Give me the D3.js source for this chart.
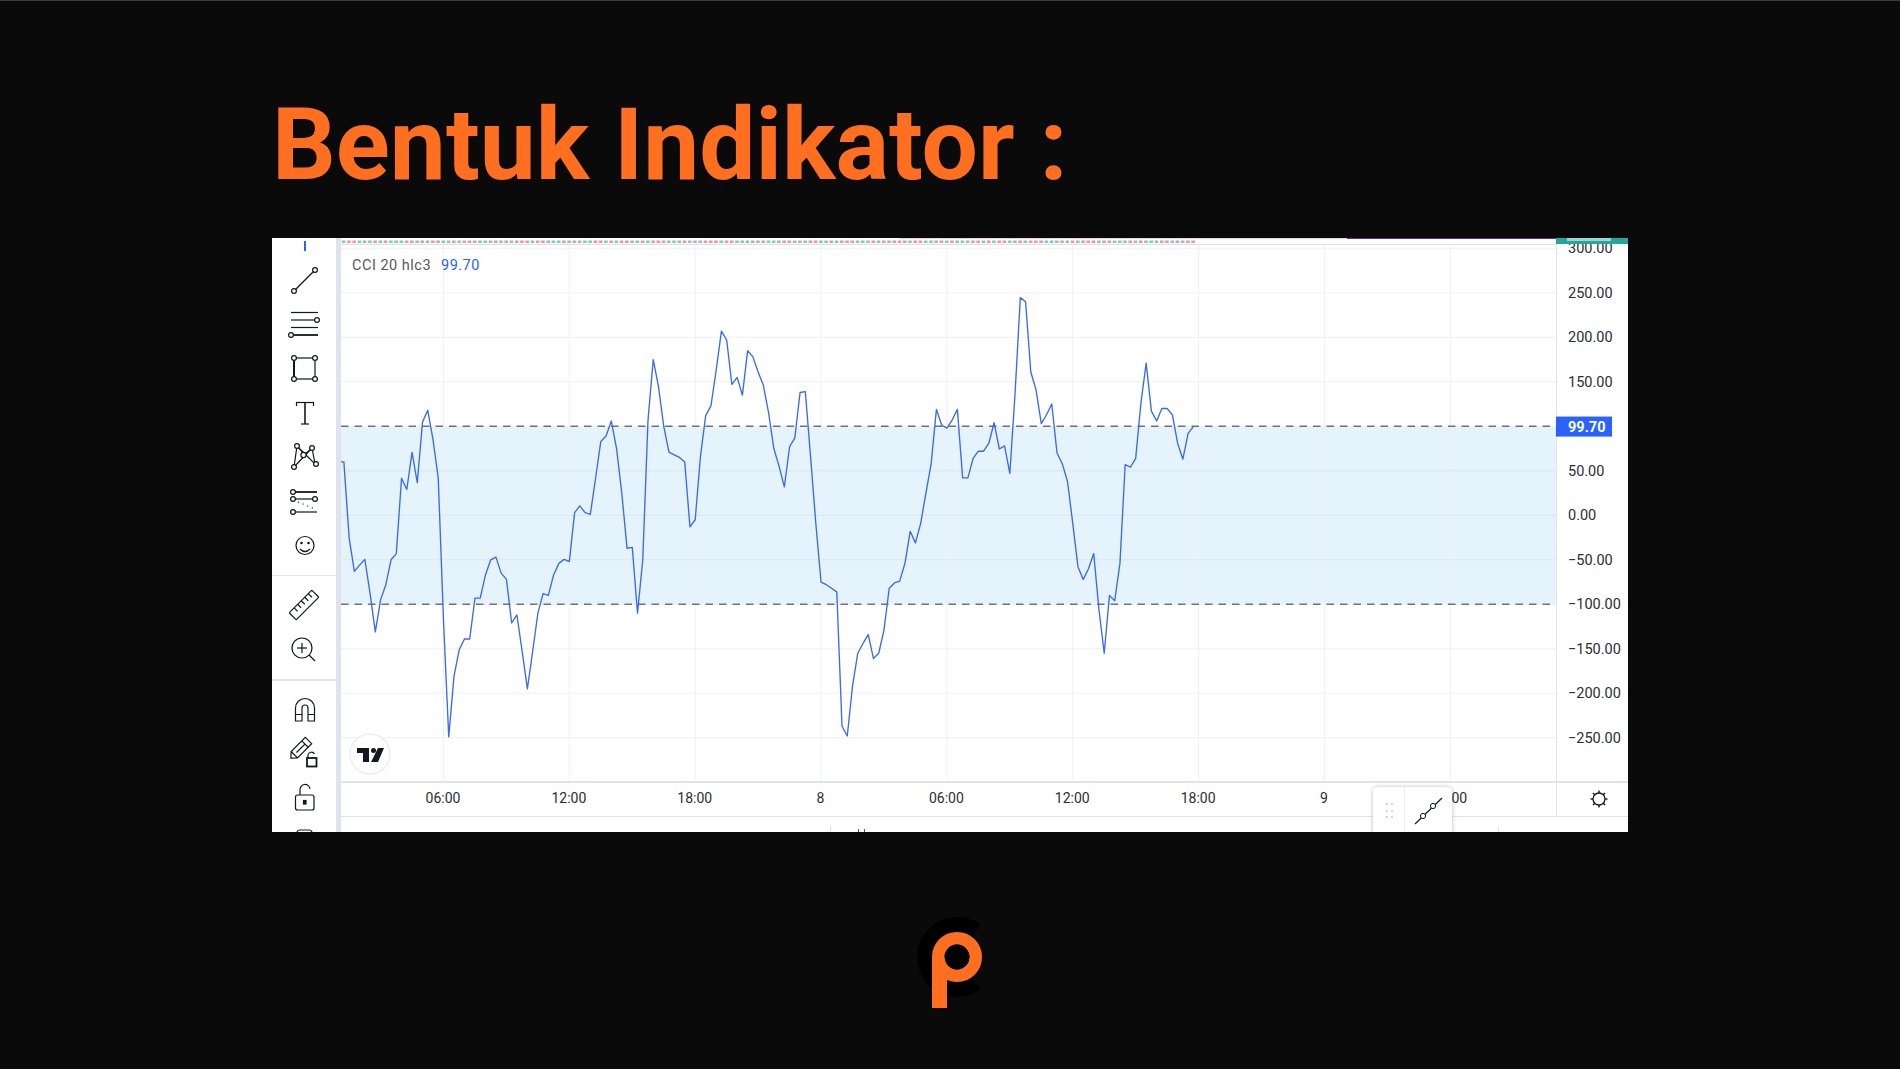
<!DOCTYPE html>
<html>
<head>
<meta charset="utf-8">
<script src="https://cdn.jsdelivr.net/npm/d3@7"></script>
<style>
  html, body { margin: 0; padding: 0; background: #0a0a0a; }
  svg { display: block; }
  text { font-family: Roboto, sans-serif; }
</style>
</head>
<body>
<svg id="chart" width="1900" height="1069"></svg>
<script>
// CCI readings, one every 15 min, from 01:00 on the 7th to 17:45 on the 8th
var firstBar = Date.UTC(2021, 5, 7, 1, 0);
var barMinutes = 15;
var cciValues = [
  60, 60, -25, -63, -56, -49.5, -88, -131, -95, -78, -50, -43, 41.6, 29, 70.8, 36.7, 105, 118, 85, 41.6,
  -118, -249, -181, -151, -139, -139, -93, -93, -67, -50, -47, -65, -72, -121, -112, -153, -195, -153, -110, -88,
  -90, -67, -54, -49.5, -52, 3, 10.5, 3, 1, 41.6, 83, 89, 106, 75, 25, -37, -36, -110, -50, 107,
  175, 144.6, 100, 71, 68, 65, 60, -13, -5, 66, 112, 123, 163, 207, 197, 147, 155, 135, 185, 178,
  161, 146, 115, 75, 55, 32, 77, 87, 138, 139, 66, -9, -75, -78, -82, -86, -237, -248, -192, -155,
  -144, -134, -161, -155, -129, -82, -76, -74, -54, -18, -31, -9, 25, 58, 119, 101.5, 98, 107, 119, 42,
  42, 64, 72, 72, 81, 104, 74.5, 78, 47, 137, 244.6, 240, 161, 141, 103, 113, 125, 70, 58, 38,
  -9, -58, -72, -60, -43, -106, -155, -90, -96, -54, 57, 54, 64, 126, 171, 117, 106, 120, 120, 113,
  81, 63, 92, 99.7
];
var priceTicks = [300, 250, 200, 150, 100, 50, 0, -50, -100, -150, -200, -250];
var priceLabelTicks = [300, 250, 200, 150, 50, 0, -50, -100, -150, -200, -250];
var timeTicks = [
  Date.UTC(2021, 5, 7, 6), Date.UTC(2021, 5, 7, 12), Date.UTC(2021, 5, 7, 18), Date.UTC(2021, 5, 8, 0),
  Date.UTC(2021, 5, 8, 6), Date.UTC(2021, 5, 8, 12), Date.UTC(2021, 5, 8, 18), Date.UTC(2021, 5, 9, 0),
  Date.UTC(2021, 5, 9, 6)
];
var timeLabels = ["06:00", "12:00", "18:00", "8", "06:00", "12:00", "18:00", "9", "06:00"];
var bandLevels = [100, -100];
var lastValue = 99.70;
var stripKinds = "rgrrgggrgrgggrrgrgrrggrgrrrgggrgrgrr";

var orange = "#ff6f1f", blue = "#2962ff", ink = "#131722", grid = "#eef0f5", rule = "#e0e3eb";

var svg = d3.select("#chart");

// title
svg.append("text").attr("x", 272).attr("y", 179)
  .attr("font-size", 100).attr("font-weight", 700).attr("fill", orange)
  .text("Bentuk Indikator :");

// screenshot panel
svg.append("rect").attr("x", 0).attr("y", 0).attr("width", 1900).attr("height", 1).attr("fill", "#3a3a3a");
svg.append("rect").attr("x", 272).attr("y", 238).attr("width", 1356).attr("height", 594).attr("fill", "#fff");

var left = 341, right = 1556, top_ = 244, bottom = 782;

var x = d3.scaleUtc()
  .domain([Date.UTC(2021, 5, 7, 6), Date.UTC(2021, 5, 9, 6)])
  .range([443.5, 1450.3]);
var y = d3.scaleLinear().domain([0, 250]).range([515.3, 292.8]);

var defs = svg.append("defs");
defs.append("clipPath").attr("id", "plot").append("rect")
  .attr("x", left).attr("y", top_).attr("width", right - left).attr("height", bottom - top_);
defs.append("clipPath").attr("id", "panel").append("rect")
  .attr("x", 272).attr("y", 238).attr("width", 1356).attr("height", 594);
defs.append("filter").attr("id", "soft").attr("x", "-30%").attr("y", "-30%").attr("width", "160%").attr("height", "160%")
  .append("feDropShadow").attr("dx", 0).attr("dy", 0).attr("stdDeviation", 2.2).attr("flood-color", "#000").attr("flood-opacity", 0.28);

var plot = svg.append("g").attr("clip-path", "url(#plot)");

// band between the two levels
plot.append("rect")
  .attr("x", left).attr("width", right - left)
  .attr("y", y(bandLevels[0])).attr("height", y(bandLevels[1]) - y(bandLevels[0]))
  .attr("fill", "#e5f3fd");

// grid
plot.selectAll("line.h").data(priceTicks).enter().append("line").attr("class", "h")
  .attr("x1", left).attr("x2", right)
  .attr("y1", function (d) { return y(d); }).attr("y2", function (d) { return y(d); })
  .attr("stroke", function (d) { return Math.abs(d) < 100 ? "#d8e6f2" : grid; });
plot.selectAll("line.v").data(timeTicks).enter().append("line").attr("class", "v")
  .attr("x1", function (d) { return x(d); }).attr("x2", function (d) { return x(d); })
  .attr("y1", top_).attr("y2", bottom)
  .attr("stroke", grid);

// hint of the price pane left over at the top of the crop
var bars = cciValues.map(function (v, i) { return { t: firstBar + i * barMinutes * 60000, v: v, i: i }; });
svg.append("g").selectAll("rect").data(bars).enter().append("rect")
  .attr("x", function (d) { return x(d.t) - 2; }).attr("width", 3.6)
  .attr("y", 240.5).attr("height", 2.5)
  .attr("fill", function (d) { return stripKinds[d.i % stripKinds.length] === "r" ? "#e59a9e" : "#85c8c0"; });
svg.append("line").attr("x1", left).attr("x2", right).attr("y1", 244.5).attr("y2", 244.5).attr("stroke", "#dddfe4");
svg.append("line").attr("x1", 900).attr("x2", 1347).attr("y1", 238.5).attr("y2", 238.5).attr("stroke", "#f1c9e6");
svg.append("line").attr("x1", 1347).attr("x2", 1556).attr("y1", 238.5).attr("y2", 238.5).attr("stroke", "#7a2a7e");

// dashed levels
plot.selectAll("line.level").data(bandLevels).enter().append("line").attr("class", "level")
  .attr("x1", left).attr("x2", right - 4)
  .attr("y1", function (d) { return y(d); }).attr("y2", function (d) { return y(d); })
  .attr("stroke", "#6f727c").attr("stroke-width", 1.6).attr("stroke-dasharray", "7.5,6");

// CCI line
var line = d3.line()
  .x(function (d) { return x(d.t); })
  .y(function (d) { return y(d.v); });
plot.append("path").datum(bars)
  .attr("d", line)
  .attr("fill", "none").attr("stroke", "#3a6be8").attr("stroke-width", 1.35).attr("stroke-linejoin", "round");

// legend
svg.append("text").attr("x", 352).attr("y", 269.5).attr("font-size", 14.5).attr("letter-spacing", 0.5).attr("fill", "#55585f").text("CCI 20 hlc3");
svg.append("text").attr("x", 441).attr("y", 269.5).attr("font-size", 14.5).attr("letter-spacing", 0.5).attr("fill", blue).text("99.70");

// price axis
svg.append("line").attr("x1", right + 0.5).attr("x2", right + 0.5).attr("y1", 238).attr("y2", 816).attr("stroke", rule);
defs.append("clipPath").attr("id", "panelAxis").append("rect").attr("x", -10).attr("y", 244).attr("width", 200).attr("height", 600);
var yAxis = d3.axisRight(y).tickValues(priceLabelTicks).tickSize(0).tickPadding(12)
  .tickFormat(function (d) { return (d < 0 ? "\u2212" : "") + Math.abs(d).toFixed(2); });
var yAxisG = svg.append("g").attr("transform", "translate(" + right + ",0)").attr("clip-path", "url(#panelAxis)").call(yAxis);
yAxisG.select(".domain").remove();
yAxisG.selectAll("text").attr("font-size", 14.5).attr("font-family", "Roboto, sans-serif").attr("fill", "#2a2e39");

// teal tag clipped at the top, current value tag
svg.append("rect").attr("x", right).attr("y", 238).attr("width", 72).attr("height", 6).attr("fill", "#26a69a");
svg.append("rect").attr("x", right + 11).attr("y", 238).attr("width", 44).attr("height", 3).attr("fill", "#ffffff").attr("opacity", 0.55);
svg.append("rect").attr("x", right).attr("y", y(lastValue) - 10).attr("width", 56).attr("height", 20).attr("fill", blue);
svg.append("text").attr("x", right + 12).attr("y", y(lastValue) + 5.5)
  .attr("font-size", 14.5).attr("font-weight", 700).attr("fill", "#fff").text(lastValue.toFixed(2));

// time axis
svg.append("line").attr("x1", left).attr("x2", 1628).attr("y1", bottom).attr("y2", bottom).attr("stroke", rule).attr("stroke-width", 2);
svg.append("line").attr("x1", left).attr("x2", 1628).attr("y1", 816.5).attr("y2", 816.5).attr("stroke", rule);
var xAxis = d3.axisBottom(x).tickValues(timeTicks).tickSize(0).tickPadding(0)
  .tickFormat(function (d, i) { return timeLabels[i]; });
var xAxisG = svg.append("g").attr("transform", "translate(-1,793)").call(xAxis);
xAxisG.select(".domain").remove();
xAxisG.selectAll("text").attr("font-size", 14).attr("font-family", "Roboto, sans-serif").attr("fill", "#2a2e39");

// toolbar
svg.append("rect").attr("x", 336).attr("y", 238).attr("width", 5).attr("height", 594).attr("fill", "#dfe3ef");
svg.append("line").attr("x1", 272).attr("x2", 336).attr("y1", 575.5).attr("y2", 575.5).attr("stroke", "#e6e8ee");
svg.append("line").attr("x1", 272).attr("x2", 336).attr("y1", 680).attr("y2", 680).attr("stroke", "#e0e3eb").attr("stroke-width", 2);
svg.append("rect").attr("x", 304).attr("y", 241).attr("width", 2).attr("height", 10).attr("fill", blue);

var icons = svg.append("g").attr("fill", "none").attr("stroke", ink).attr("stroke-width", 1.2).attr("clip-path", "url(#panel)");
function seg(x1, y1, x2, y2, w) {
  icons.append("line").attr("x1", x1).attr("y1", y1).attr("x2", x2).attr("y2", y2).attr("stroke-width", w || 1.2);
}
function dot(cx, cy, r) {
  icons.append("circle").attr("cx", cx).attr("cy", cy).attr("r", r || 2.4).attr("fill", "#fff");
}
function curve(d, w) {
  icons.append("path").attr("d", d).attr("stroke-width", w || 1.2);
}
// trend line
seg(294, 291, 315, 270); dot(294, 291); dot(315, 270);
// fib lines
seg(291, 312.5, 318, 312.5); seg(291, 320, 316, 320); seg(291, 327.5, 318, 327.5); seg(291, 335, 318, 335, 1.8);
dot(317, 320); dot(291, 335);
// rectangle
icons.append("rect").attr("x", 294).attr("y", 358).attr("width", 21).attr("height", 21);
seg(294, 358, 294, 379, 2);
dot(294, 358); dot(315, 358); dot(294, 379); dot(315, 379);
// text tool
seg(296, 402.5, 314, 402.5); seg(296.5, 402, 296.5, 406); seg(313.5, 402, 313.5, 406);
seg(305, 402, 305, 424, 1.6); seg(301, 424, 309, 424);
// pattern
curve("M294 467L297 446L315 464L312 448L294 467M297 446L305 455M312 448L303 456");
dot(294, 467); dot(297, 446); dot(312, 448); dot(316, 464); dot(303.5, 455, 2.6);
// forecast
seg(293, 492, 317, 492, 1.8); seg(293, 499, 315, 499); seg(294, 512, 317, 512);
dot(293, 492); dot(293, 499); dot(315, 499); dot(293, 512);
icons.append("line").attr("x1", 298).attr("y1", 502).attr("x2", 315).attr("y2", 509).attr("stroke-dasharray", "1,4");
// smiley
icons.append("circle").attr("cx", 305).attr("cy", 545.5).attr("r", 9);
dot(301.5, 543, 0.7); dot(308.5, 543, 0.7);
curve("M300 549Q305 554 310 549");
// ruler
var ruler = icons.append("g").attr("transform", "translate(304,605) rotate(-45)");
ruler.append("rect").attr("x", -16).attr("y", -5).attr("width", 32).attr("height", 10).attr("rx", 1);
ruler.selectAll("line").data([-9, -4, 1, 6, 11]).enter().append("line")
  .attr("x1", function (d) { return d; }).attr("x2", function (d) { return d; }).attr("y1", -5).attr("y2", 0);
// zoom
icons.append("circle").attr("cx", 302).attr("cy", 648).attr("r", 10);
seg(297, 648, 307, 648); seg(302, 643, 302, 653); seg(309, 655, 315, 661);
// magnet
curve("M295.5 721V708A9.5 9.5 0 0 1 314.5 708V721H308V708A3 3 0 0 0 302 708V721ZM295.5 714.5H302M308 714.5H314.5");
// pencil and lock
var pencil = icons.append("g").attr("transform", "translate(300,749) rotate(-45)");
pencil.append("path").attr("d", "M-13 0L-8 -4.5H12V4.5H-8ZM-8 -4.5V4.5M7 -4.5V4.5M-5 0H7");
icons.append("rect").attr("x", 307).attr("y", 758).attr("width", 9.5).attr("height", 8.5).attr("stroke-width", 1.8);
curve("M308 758V755A3.5 3.5 0 0 1 314.5 754");
// unlock
icons.append("rect").attr("x", 295.5).attr("y", 795).attr("width", 18.5).attr("height", 15).attr("rx", 2);
curve("M300 795V790A5 5 0 0 1 310 789");
icons.append("rect").attr("x", 303.5).attr("y", 800.5).attr("width", 2.5).attr("height", 3.5).attr("fill", ink);
// next icon, cut by the crop
icons.append("rect").attr("x", 297).attr("y", 830).attr("width", 15).attr("height", 8).attr("rx", 3);

// tradingview badge
svg.append("circle").attr("cx", 370).attr("cy", 754).attr("r", 20).attr("fill", "#fff").attr("stroke", "#eeeeee").attr("stroke-width", 1.5);
svg.append("path").attr("fill", ink)
  .attr("d", "M357 748H369V762H363V753H357ZM378 748H384L378 762H371Z");
svg.append("circle").attr("cx", 373.5).attr("cy", 750.5).attr("r", 2.5).attr("fill", ink);

// gear
var gear = svg.append("g").attr("transform", "translate(1599,799)").attr("fill", "none").attr("stroke", ink);
gear.append("circle").attr("r", 6).attr("stroke-width", 1.3);
gear.selectAll("line").data([0, 45, 90, 135, 180, 225, 270, 315]).enter().append("line")
  .attr("x1", 0).attr("x2", 0).attr("y1", -6).attr("y2", -8.5).attr("stroke-width", 1.4)
  .attr("transform", function (d) { return "rotate(" + d + ")"; });

// small stubs under the time axis
svg.append("line").attr("x1", 830.5).attr("x2", 830.5).attr("y1", 826).attr("y2", 832).attr("stroke", "#e0e3eb");
svg.append("line").attr("x1", 858.5).attr("x2", 858.5).attr("y1", 829).attr("y2", 832).attr("stroke", "#555");
svg.append("line").attr("x1", 864.5).attr("x2", 864.5).attr("y1", 829).attr("y2", 832).attr("stroke", "#555");
svg.append("line").attr("x1", 1498.5).attr("x2", 1498.5).attr("y1", 826).attr("y2", 832).attr("stroke", "#e0e3eb");

// floating drawing widget
var widget = svg.append("g").attr("clip-path", "url(#panel)");
widget.append("rect").attr("x", 1373).attr("y", 787).attr("width", 79).attr("height", 60).attr("rx", 5)
  .attr("fill", "#fff").attr("filter", "url(#soft)");
widget.append("line").attr("x1", 1404.5).attr("x2", 1404.5).attr("y1", 787).attr("y2", 832).attr("stroke", "#eceef2");
widget.selectAll("circle.grip").data([[1387, 804], [1392, 804], [1387, 811], [1392, 811], [1387, 817], [1392, 817]])
  .enter().append("circle").attr("class", "grip")
  .attr("cx", function (d) { return d[0]; }).attr("cy", function (d) { return d[1]; }).attr("r", 1).attr("fill", "#c8cad0");
widget.append("line").attr("x1", 1415).attr("y1", 824).attr("x2", 1442).attr("y2", 798).attr("stroke", ink).attr("stroke-width", 1.2);
widget.append("circle").attr("cx", 1423).attr("cy", 816).attr("r", 2.6).attr("fill", "#fff").attr("stroke", ink);
widget.append("circle").attr("cx", 1433).attr("cy", 806).attr("r", 2.6).attr("fill", "#fff").attr("stroke", ink);

// logo, black C behind the orange p
var logo = svg.append("g").attr("transform", "translate(957,957)");
logo.append("path")
  .attr("d", d3.arc()({ innerRadius: 24, outerRadius: 40, startAngle: Math.PI * 0.8, endAngle: Math.PI * 2.2 }))
  .attr("fill", "#000");
logo.append("rect").attr("x", -25).attr("y", 0).attr("width", 15).attr("height", 51).attr("fill", orange);
logo.append("circle").attr("r", 18.7).attr("fill", "none").attr("stroke", orange).attr("stroke-width", 12.6);
logo.append("circle").attr("r", 12.4).attr("fill", "#000");
</script>
</body>
</html>
